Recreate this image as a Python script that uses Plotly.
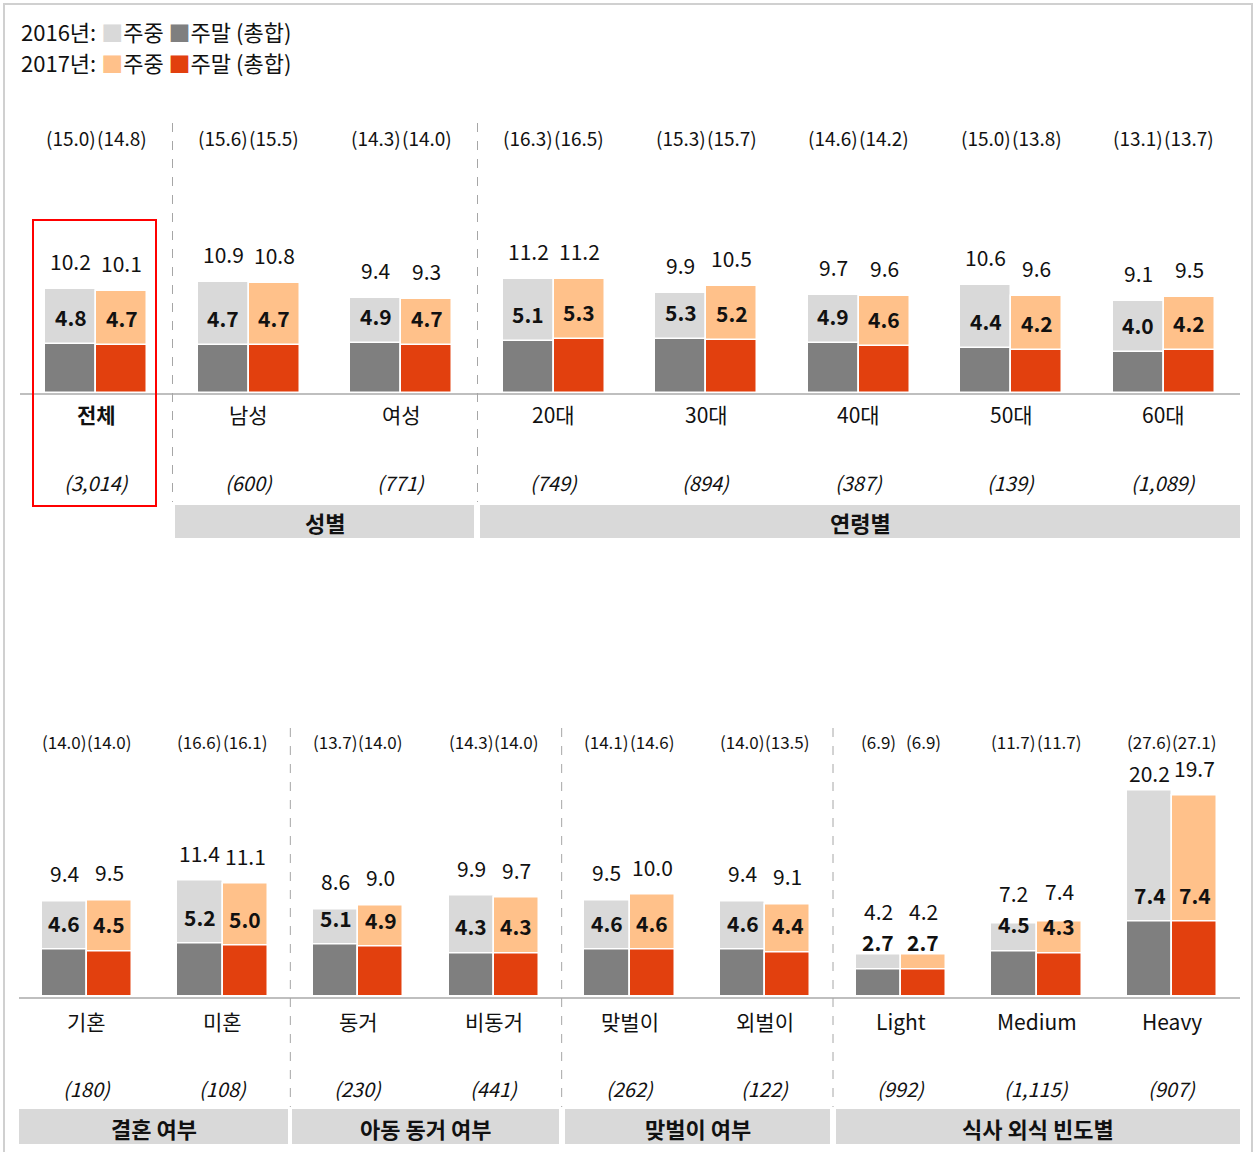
import plotly.graph_objects as go

# ---------------- data ----------------
top_cats = ["전체", "남성", "여성", "20대", "30대", "40대", "50대", "60대"]
top_n = ["(3,014)", "(600)", "(771)", "(749)", "(894)", "(387)", "(139)", "(1,089)"]
top_wd16 = [10.2, 10.9, 9.4, 11.2, 9.9, 9.7, 10.6, 9.1]
top_we16 = [4.8, 4.7, 4.9, 5.1, 5.3, 4.9, 4.4, 4.0]
top_tot16 = [15.0, 15.6, 14.3, 16.3, 15.3, 14.6, 15.0, 13.1]
top_wd17 = [10.1, 10.8, 9.3, 11.2, 10.5, 9.6, 9.6, 9.5]
top_we17 = [4.7, 4.7, 4.7, 5.3, 5.2, 4.6, 4.2, 4.2]
top_tot17 = [14.8, 15.5, 14.0, 16.5, 15.7, 14.2, 13.8, 13.7]

bot_cats = ["기혼", "미혼", "동거", "비동거", "맞벌이", "외벌이", "Light", "Medium", "Heavy"]
bot_n = ["(180)", "(108)", "(230)", "(441)", "(262)", "(122)", "(992)", "(1,115)", "(907)"]
bot_wd16 = [9.4, 11.4, 8.6, 9.9, 9.5, 9.4, 4.2, 7.2, 20.2]
bot_we16 = [4.6, 5.2, 5.1, 4.3, 4.6, 4.6, 2.7, 4.5, 7.4]
bot_tot16 = [14.0, 16.6, 13.7, 14.3, 14.1, 14.0, 6.9, 11.7, 27.6]
bot_wd17 = [9.5, 11.1, 9.0, 9.7, 10.0, 9.1, 4.2, 7.4, 19.7]
bot_we17 = [4.5, 5.0, 4.9, 4.3, 4.6, 4.4, 2.7, 4.3, 7.4]
bot_tot17 = [14.0, 16.1, 14.0, 14.0, 14.6, 13.5, 6.9, 11.7, 27.1]

top_groups = ["성별", "연령별"]
bot_groups = ["결혼 여부", "아동 동거 여부", "맞벌이 여부", "식사 외식 빈도별"]

# ---------------- style ----------------
W, H = 1259, 1152
FONT = "Noto Sans CJK KR"
C16_WD, C16_WE = "#D9D9D9", "#7F7F7F"
C17_WD, C17_WE = "#FFC18A", "#E2400E"
TXT = "#111111"
OFF = 0.167
BW = 0.334


def px(x):
    return x / W


def py(y):
    return 1 - y / H


fig = go.Figure()

panels = [
    dict(xa="x", ya="y", cats=top_cats, n=top_n,
         d=[(top_wd16, top_we16, top_tot16, C16_WD, C16_WE, -OFF),
            (top_wd17, top_we17, top_tot17, C17_WD, C17_WE, OFF)],
         tot_y=137, tot_size=19, cat_y=414, n_y=482),
    dict(xa="x2", ya="y2", cats=bot_cats, n=bot_n,
         d=[(bot_wd16, bot_we16, bot_tot16, C16_WD, C16_WE, -OFF),
            (bot_wd17, bot_we17, bot_tot17, C17_WD, C17_WE, OFF)],
         tot_y=741, tot_size=17, cat_y=1021, n_y=1088),
]

annotations = []
# extra vertical nudges (px) for weekday labels to avoid collisions
wd_nudge = {(1, 6, 0): 15, (1, 6, 1): 15, (1, 7, 0): 3, (1, 7, 1): 3, (1, 8, 0): -10}

for p_i, p in enumerate(panels):
    idx = list(range(len(p["cats"])))
    for s_i, (wd, we, tot, cwd, cwe, off) in enumerate(p["d"]):
        xs = [i + off for i in idx]
        fig.add_trace(go.Bar(x=xs, y=wd, width=BW, marker=dict(color=cwd, line=dict(color="white", width=1.5)),
                             xaxis=p["xa"], yaxis=p["ya"], showlegend=False, hoverinfo="skip"))
        fig.add_trace(go.Bar(x=xs, y=we, width=BW, marker=dict(color=cwe, line=dict(color="white", width=1.5)),
                             xaxis=p["xa"], yaxis=p["ya"], showlegend=False, hoverinfo="skip"))
        for i, x in enumerate(xs):
            annotations.append(dict(x=x, y=wd[i], xref=p["xa"], yref=p["ya"], text=f"{wd[i]:.1f}",
                                    yshift=28 + wd_nudge.get((p_i, i, s_i), 0), yanchor="middle",
                                    xanchor="center", showarrow=False,
                                    font=dict(size=21, color=TXT, family=FONT)))
            annotations.append(dict(x=x, y=we[i], xref=p["xa"], yref=p["ya"], text=f"<b>{we[i]:.1f}</b>",
                                    yshift=27, yanchor="middle", xanchor="center",
                                    showarrow=False, font=dict(size=21, color=TXT, family=FONT)))
            annotations.append(dict(x=x, y=py(p["tot_y"]), xref=p["xa"], yref="paper", text=f"({tot[i]:.1f})",
                                    yanchor="middle", xanchor="center", showarrow=False,
                                    font=dict(size=p["tot_size"], color=TXT, family=FONT)))
    for i, c in enumerate(p["cats"]):
        txt = f"<b>{c}</b>" if c == "전체" else c
        annotations.append(dict(x=i, y=py(p["cat_y"]), xref=p["xa"], yref="paper", text=txt,
                                yanchor="middle", xanchor="center", showarrow=False,
                                font=dict(size=21, color=TXT, family=FONT)))
        annotations.append(dict(x=i, y=py(p["n_y"]), xref=p["xa"], yref="paper", text=f"<i>{p['n'][i]}</i>",
                                yanchor="middle", xanchor="center", showarrow=False,
                                font=dict(size=20, color=TXT, family=FONT)))

shapes = []
# group boxes
top_boxes = [(175, 474), (480, 1240)]
bot_boxes = [(19, 288), (292, 559), (565, 830), (836, 1240)]
for (x0, x1), g in zip(top_boxes, top_groups):
    shapes.append(dict(type="rect", xref="paper", yref="paper", x0=px(x0), x1=px(x1), y0=py(538), y1=py(505),
                       fillcolor="#D9D9D9", line=dict(width=0), layer="below"))
    annotations.append(dict(x=px((x0 + x1) / 2), y=py(521.5), xref="paper", yref="paper", text=f"<b>{g}</b>",
                            showarrow=False, xanchor="center", yanchor="middle",
                            font=dict(size=22, color=TXT, family=FONT)))
for (x0, x1), g in zip(bot_boxes, bot_groups):
    shapes.append(dict(type="rect", xref="paper", yref="paper", x0=px(x0), x1=px(x1), y0=py(1144), y1=py(1109),
                       fillcolor="#D9D9D9", line=dict(width=0), layer="below"))
    annotations.append(dict(x=px((x0 + x1) / 2), y=py(1128), xref="paper", yref="paper", text=f"<b>{g}</b>",
                            showarrow=False, xanchor="center", yanchor="middle",
                            font=dict(size=22, color=TXT, family=FONT)))

# dashed separators
for xv in [0.5, 2.5]:
    shapes.append(dict(type="line", xref="x", yref="paper", x0=xv, x1=xv, y0=py(123), y1=py(502),
                       line=dict(color="#A6A6A6", width=1, dash="dash")))
for xv in [1.5, 3.5, 5.5]:
    shapes.append(dict(type="line", xref="x2", yref="paper", x0=xv, x1=xv, y0=py(728), y1=py(1107),
                       line=dict(color="#A6A6A6", width=1, dash="dash")))

# red highlight box
shapes.append(dict(type="rect", xref="paper", yref="paper", x0=px(33), x1=px(156), y0=py(506), y1=py(220),
                   line=dict(color="#FF0000", width=2), fillcolor="rgba(0,0,0,0)"))
# outer border
shapes.append(dict(type="rect", xref="paper", yref="paper", x0=px(4), x1=px(1252), y0=-0.02, y1=py(4),
                   line=dict(color="#D0D0D0", width=2), fillcolor="rgba(0,0,0,0)"))

# legend lines
for yy, year, cwd, cwe in [(31, "2016년", C16_WD, C16_WE), (62, "2017년", C17_WD, C17_WE)]:
    annotations.append(dict(x=px(19), y=py(yy), xref="paper", yref="paper", xanchor="left", yanchor="middle",
                            showarrow=False, font=dict(size=22, color=TXT, family=FONT),
                            text=f"{year}: <span style='color:{cwd}'>■</span>주중 "
                                 f"<span style='color:{cwe}'>■</span>주말 (총합)"))

axis_common = dict(showgrid=False, zeroline=False, showticklabels=False, ticks="", fixedrange=True)
fig.update_layout(
    width=W, height=H, margin=dict(l=0, r=0, t=0, b=0),
    paper_bgcolor="white", plot_bgcolor="rgba(0,0,0,0)",
    barmode="overlay", bargap=0,
    font=dict(family=FONT, color=TXT),
    xaxis=dict(domain=[px(20), px(1240)], range=[-0.5, 7.5], anchor="y", showline=True,
               linecolor="#BFBFBF", linewidth=2, **axis_common),
    yaxis=dict(domain=[py(393), py(119)], range=[0, 27], visible=False, fixedrange=True),
    xaxis2=dict(domain=[px(19), px(1240)], range=[-0.5, 8.5], anchor="y2", showline=True,
                linecolor="#BFBFBF", linewidth=2, **axis_common),
    yaxis2=dict(domain=[py(997), py(721.6)], range=[0, 27], visible=False, fixedrange=True),
    annotations=annotations, shapes=shapes,
)

fig.write_html("out.html", config={"displayModeBar": False},
               post_script="document.body.style.margin='0';document.body.style.overflow='hidden';")
